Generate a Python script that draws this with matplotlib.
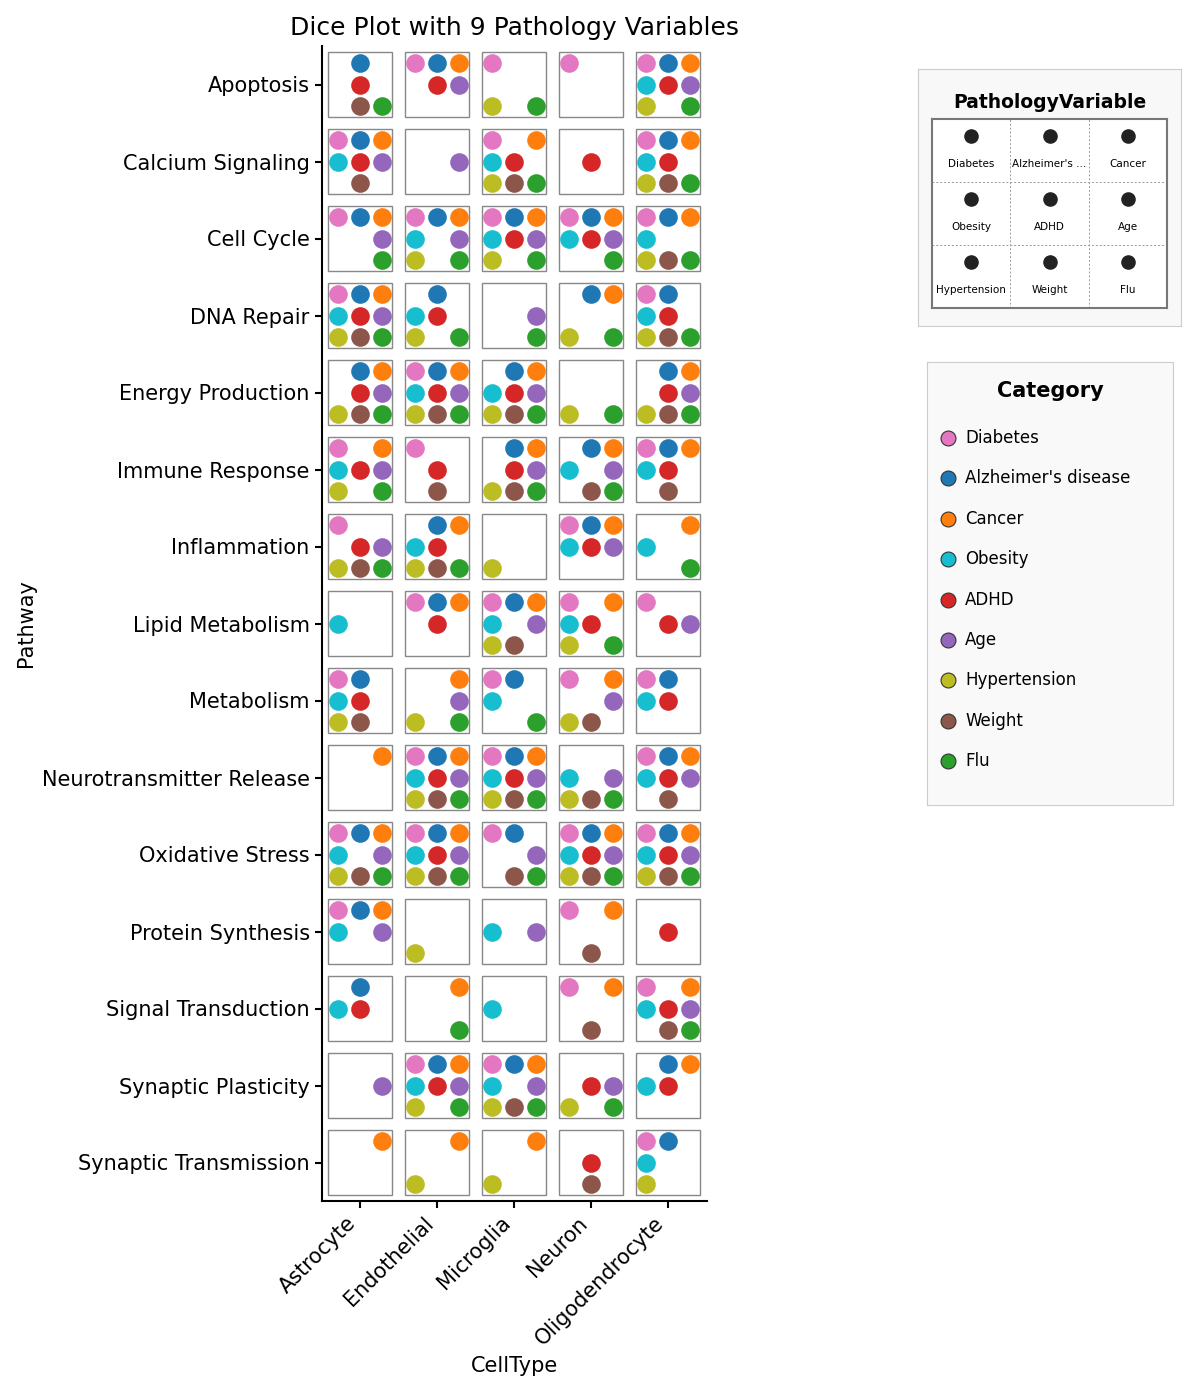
import matplotlib.pyplot as plt
from matplotlib.patches import Rectangle

cell_types = ["Astrocyte", "Endothelial", "Microglia", "Neuron", "Oligodendrocyte"]
pathways = ["Apoptosis", "Calcium Signaling", "Cell Cycle", "DNA Repair",
            "Energy Production", "Immune Response", "Inflammation",
            "Lipid Metabolism", "Metabolism", "Neurotransmitter Release",
            "Oxidative Stress", "Protein Synthesis", "Signal Transduction",
            "Synaptic Plasticity", "Synaptic Transmission"]
variables = ["Diabetes", "Alzheimer's disease", "Cancer", "Obesity", "ADHD",
             "Age", "Hypertension", "Weight", "Flu"]
var_colors = ["#e377c2", "#1f77b4", "#ff7f0e", "#17becf", "#d62728",
              "#9467bd", "#bcbd22", "#8c564b", "#2ca02c"]

# which variables (index into `variables`) are present, one list per pathway
ALL = list(range(9))
astrocyte = [[1, 4, 7, 8], [0, 1, 2, 3, 4, 5, 7], [0, 1, 2, 5, 8], ALL,
             [1, 2, 4, 5, 6, 7, 8], [0, 2, 3, 4, 5, 6, 8], [0, 4, 5, 6, 7, 8],
             [3], [0, 1, 3, 4, 6, 7], [2], [0, 1, 2, 3, 5, 6, 7, 8],
             [0, 1, 2, 3, 5], [1, 3, 4], [5], [2]]
endothelial = [[0, 1, 2, 4, 5], [5], [0, 1, 2, 3, 5, 6, 8], [1, 3, 4, 6, 8],
               ALL, [0, 4, 7], [1, 2, 3, 4, 6, 7, 8], [0, 1, 2, 4],
               [2, 5, 6, 8], ALL, ALL, [6], [2, 8],
               [0, 1, 2, 3, 4, 5, 6, 8], [2, 6]]
microglia = [[0, 6, 8], [0, 2, 3, 4, 6, 7, 8], [0, 1, 2, 3, 4, 5, 6, 8],
             [5, 8], [1, 2, 3, 4, 5, 6, 7, 8], [1, 2, 4, 5, 6, 7, 8], [6],
             [0, 1, 2, 3, 5, 6, 7], [0, 1, 3, 8], ALL, [0, 1, 5, 7, 8],
             [3, 5], [3], [0, 1, 2, 3, 5, 6, 7, 8], [2, 6]]
neuron = [[0], [4], [0, 1, 2, 3, 4, 5, 8], [1, 2, 6, 8], [6, 8],
          [1, 2, 3, 5, 7, 8], [0, 1, 2, 3, 4, 5], [0, 2, 3, 4, 6, 8],
          [0, 2, 5, 6, 7], [3, 5, 6, 7, 8], ALL, [0, 2, 7], [0, 2, 7],
          [4, 5, 6, 8], [4, 7]]
oligodendrocyte = [[0, 1, 2, 3, 4, 5, 6, 8], [0, 1, 2, 3, 4, 6, 7, 8],
                   [0, 1, 2, 3, 6, 7, 8], [0, 1, 3, 4, 6, 7, 8],
                   [1, 2, 4, 5, 6, 7, 8], [0, 1, 2, 3, 4, 7], [2, 3, 8],
                   [0, 4, 5], [0, 1, 3, 4], [0, 1, 2, 3, 4, 5, 7], ALL, [4],
                   [0, 2, 3, 4, 5, 7, 8], [1, 2, 3, 4], [0, 1, 3, 6]]
presence = [astrocyte, endothelial, microglia, neuron, oligodendrocyte]

W, H = 1201, 1390
fig = plt.figure(figsize=(W / 100, H / 100), dpi=100)

ax = fig.add_axes([321.5 / W, 189 / H, 385 / W, 1155 / H])
half = 0.42
step = 0.28

for i in range(len(cell_types)):
    for j in range(len(pathways)):
        ax.add_patch(Rectangle((i - half, j - half), 2 * half, 2 * half,
                               fill=False, edgecolor="#888888", lw=1, zorder=2))

for k, var in enumerate(variables):
    xs, ys = [], []
    for i in range(len(cell_types)):
        for j in range(len(pathways)):
            if k in presence[i][j]:
                xs.append(i + (k % 3 - 1) * step)
                ys.append(j + (k // 3 - 1) * step)
    ax.scatter(xs, ys, s=180, color=var_colors[k], linewidths=0, zorder=3)

ax.set_xlim(-0.5, len(cell_types) - 0.5)
ax.set_ylim(len(pathways) - 0.5, -0.5)
ax.set_xticks(range(len(cell_types)))
ax.set_xticklabels(cell_types, rotation=45, ha="right", fontsize=15)
ax.set_yticks(range(len(pathways)))
ax.set_yticklabels(pathways, fontsize=15)
ax.set_xlabel("CellType", fontsize=15, labelpad=5)
ax.set_ylabel("Pathway", fontsize=15)
ax.set_title("Dice Plot with 9 Pathology Variables", fontsize=18, pad=8)
for s in ["top", "right"]:
    ax.spines[s].set_visible(False)
for s in ["left", "bottom"]:
    ax.spines[s].set_linewidth(1.5)
ax.tick_params(width=1.5, length=5)

# dice position legend
bg1 = fig.add_axes([918 / W, 1 - 326 / H, 263 / W, 257 / H])
bg1.set_facecolor("#f8f8f8")
bg1.set_xticks([])
bg1.set_yticks([])
for sp in bg1.spines.values():
    sp.set_color("#cccccc")
bg1.text(0.5, 1 - 34 / 257, "PathologyVariable", ha="center", va="center",
         fontsize=13.5, fontweight="bold", transform=bg1.transAxes)

grid = fig.add_axes([932 / W, 1 - 308 / H, 235 / W, 189 / H])
grid.set_xlim(0, 3)
grid.set_ylim(3, 0)
grid.set_xticks([])
grid.set_yticks([])
for sp in grid.spines.values():
    sp.set_color("#777777")
    sp.set_linewidth(1.5)
for v in [1, 2]:
    grid.axvline(v, color="#999999", ls=(0, (2, 2)), lw=0.7)
    grid.axhline(v, color="#999999", ls=(0, (2, 2)), lw=0.7)
for k, var in enumerate(variables):
    c, r = k % 3, k // 3
    grid.scatter(c + 0.5, r + 0.27, s=90, color="#222222", zorder=3)
    name = var if len(var) <= 12 else var[:12] + "..."
    grid.text(c + 0.5, r + 0.72, name, ha="center", va="center", fontsize=7.5)

# category legend
bg2 = fig.add_axes([927 / W, 1 - 805 / H, 246 / W, 443 / H])
bg2.set_facecolor("#f9f9f9")
bg2.set_xlim(0, 246)
bg2.set_ylim(443, 0)
bg2.set_xticks([])
bg2.set_yticks([])
for sp in bg2.spines.values():
    sp.set_color("#cccccc")
bg2.text(123, 29, "Category", ha="center", va="center", fontsize=15,
         fontweight="bold")
for k, var in enumerate(variables):
    y = 76 + 40.4 * k
    bg2.scatter(21, y, s=115, color=var_colors[k], edgecolors="#333333",
                linewidths=0.8, zorder=3)
    bg2.text(38, y, var, ha="left", va="center", fontsize=12)

fig.savefig("out.png", dpi=100)
